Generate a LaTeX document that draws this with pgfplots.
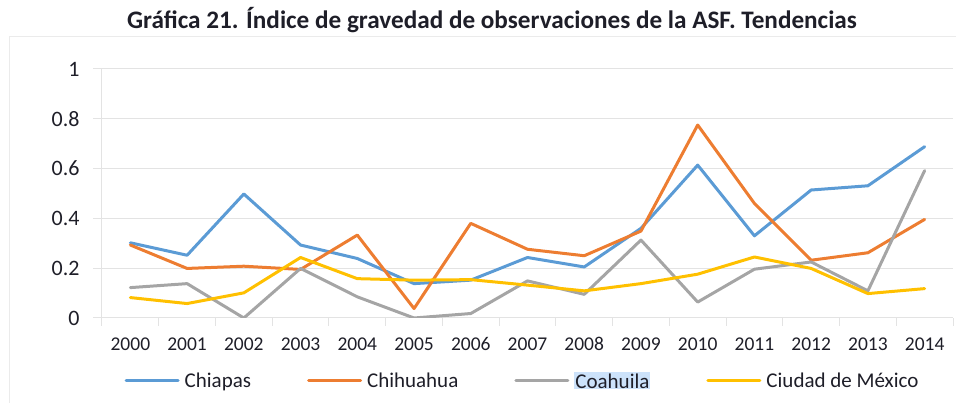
\documentclass[border=0pt]{standalone}
\usepackage{pgfplots}
\pgfplotsset{compat=1.18}
\usepackage{fontspec}
\setmainfont{Carlito}
\definecolor{cChiapas}{HTML}{5B9BD5}
\definecolor{cChihuahua}{HTML}{ED7D31}
\definecolor{cCoahuila}{HTML}{A5A5A5}
\definecolor{cCDMX}{HTML}{FFC000}
\definecolor{gridc}{HTML}{E3E3E3}
\definecolor{framec}{HTML}{EBEBEB}
\definecolor{txt}{HTML}{1E1E28}
\definecolor{hl}{HTML}{CCE2FA}
\begin{document}
\begin{tikzpicture}[x=1pt,y=1pt]
\useasboundingbox (0,0) rectangle (956,403);
\draw[color=framec, line width=1pt] (9,0) -- (9,366) -- (956,366);
\node[font=\bfseries\fontsize{25.2}{30}\selectfont, text=txt] at (492,383) {Gráfica 21. Índice de gravedad de observaciones de la ASF. Tendencias};
\begin{axis}[
  at={(102pt,85pt)}, anchor=south west,
  scale only axis, width=851pt, height=249pt,
  xmin=-0.5, xmax=14.5, ymin=0, ymax=1,
  axis lines*=left,
  axis line style={draw=gridc, line width=1pt, -},
  ytick={0,0.2,0.4,0.6,0.8,1},
  yticklabels={0,0.2,0.4,0.6,0.8,1},
  xtick={0,...,14},
  xticklabels={2000,2001,2002,2003,2004,2005,2006,2007,2008,2009,2010,2011,2012,2013,2014},
  xtick style={draw=none},
  ytick style={draw=gridc, line width=1pt},
  tick align=outside,
  major tick length=9pt,
  ymajorgrids,
  grid style={draw=gridc, line width=1pt},
  extra x ticks={-0.5,0.5,1.5,2.5,3.5,4.5,5.5,6.5,7.5,8.5,9.5,10.5,11.5,12.5,13.5,14.5},
  extra x tick labels={},
  extra x tick style={xtick style={draw=gridc, line width=1pt}, major tick length=8pt, grid=none},
  xticklabel style={font=\fontsize{19.5}{23}\selectfont, text=txt, yshift=-7pt},
  yticklabel style={font=\fontsize{22}{26}\selectfont, text=txt, xshift=-10pt},
  /pgf/number format/assume math mode=true,
  legend columns=4,
  legend style={at={(0.493,-0.253)}, anchor=center, draw=none, fill=none,
    font=\fontsize{21}{25}\selectfont, text=txt, inner sep=0pt,
    nodes={inner sep=0pt},
    /tikz/every odd column/.append style={column sep=5pt},
    /tikz/every even column/.append style={column sep=56pt}},
  legend image code/.code={\draw[#1] (0pt,0pt) -- (52pt,0pt);},
  every axis plot/.append style={line width=3pt, line join=round, line cap=round, mark=none},
]
\addplot[color=cChiapas] coordinates {(0,0.302)(1,0.252)(2,0.498)(3,0.293)(4,0.239)(5,0.138)(6,0.152)(7,0.243)(8,0.205)(9,0.360)(10,0.614)(11,0.330)(12,0.514)(13,0.531)(14,0.688)};
\addlegendentry{Chiapas}
\addplot[color=cChihuahua] coordinates {(0,0.293)(1,0.199)(2,0.208)(3,0.195)(4,0.333)(5,0.038)(6,0.380)(7,0.276)(8,0.250)(9,0.349)(10,0.775)(11,0.460)(12,0.232)(13,0.262)(14,0.396)};
\addlegendentry{Chihuahua}
\addplot[color=cCoahuila] coordinates {(0,0.122)(1,0.138)(2,0.000)(3,0.199)(4,0.085)(5,0.000)(6,0.018)(7,0.149)(8,0.095)(9,0.313)(10,0.064)(11,0.196)(12,0.225)(13,0.109)(14,0.592)};
\addlegendentry{\setlength{\fboxsep}{1pt}\colorbox{hl}{Coahuila}}
\addplot[color=cCDMX] coordinates {(0,0.082)(1,0.058)(2,0.101)(3,0.243)(4,0.158)(5,0.152)(6,0.154)(7,0.132)(8,0.109)(9,0.138)(10,0.176)(11,0.245)(12,0.199)(13,0.098)(14,0.118)};
\addlegendentry{Ciudad de México}
\end{axis}
\end{tikzpicture}
\end{document}
